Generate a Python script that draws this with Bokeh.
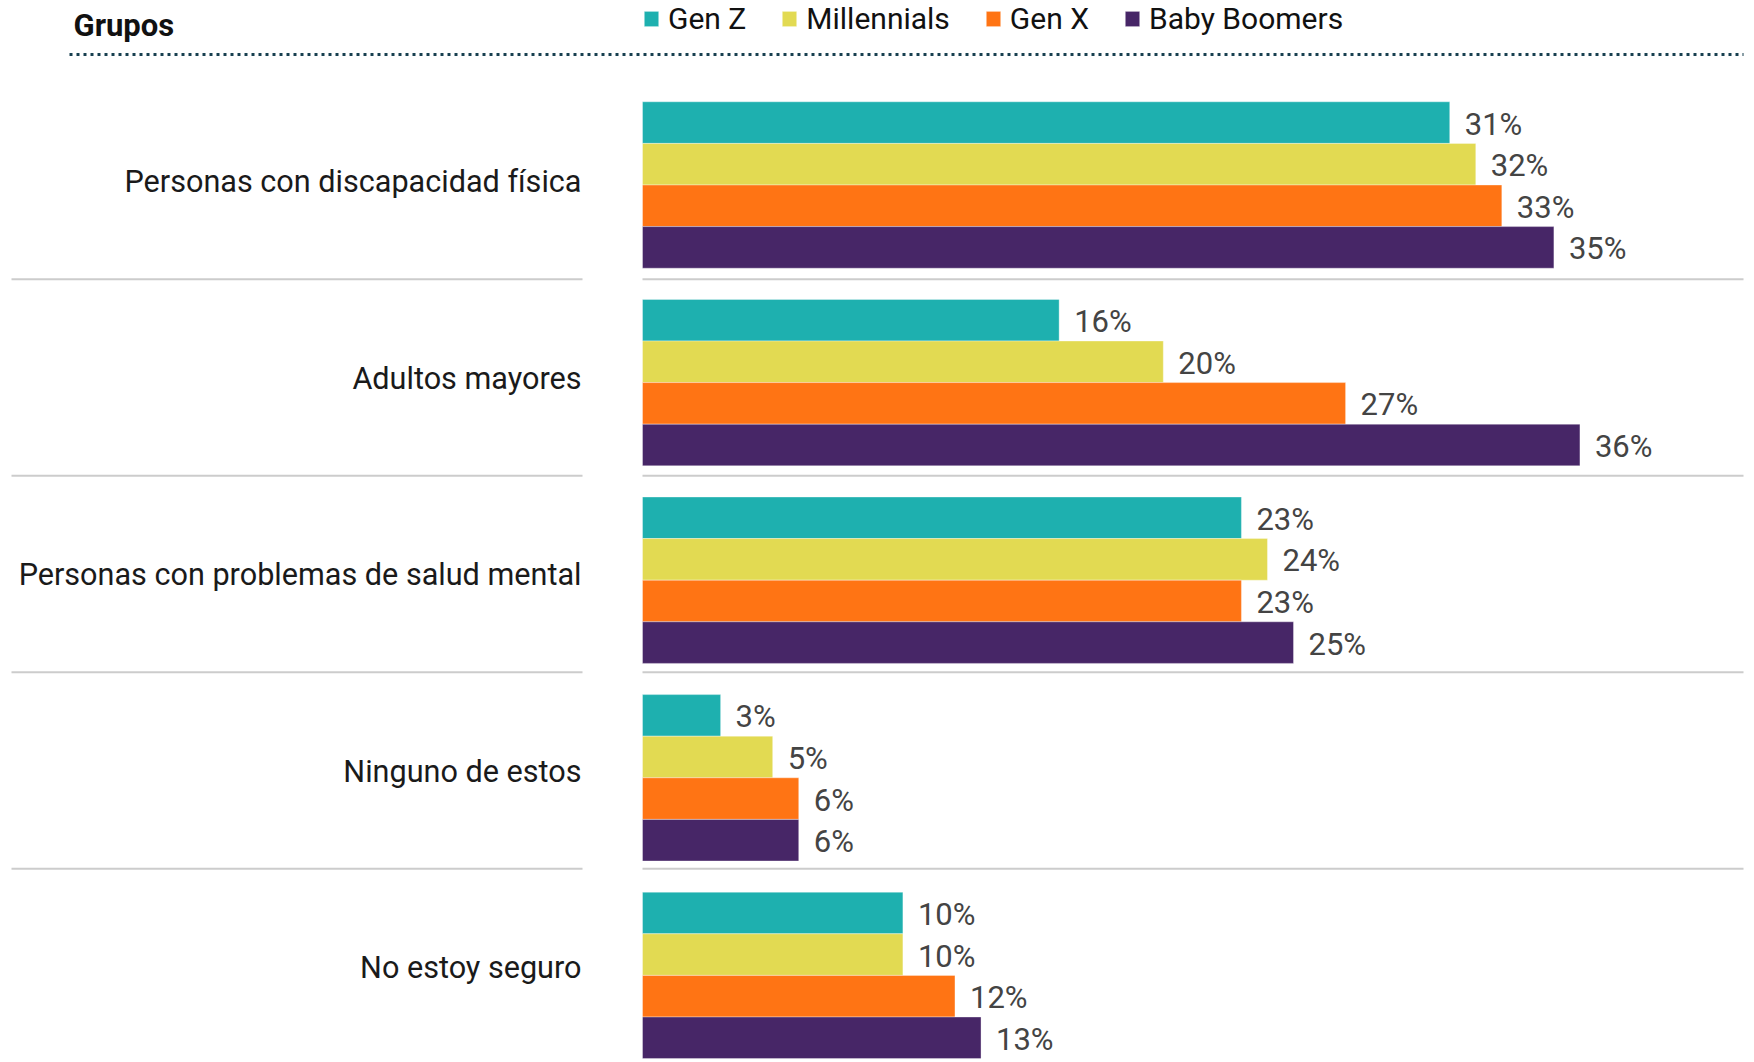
from bokeh.plotting import figure
from bokeh.models import Range1d, ColumnDataSource, Legend, LegendItem
from bokeh.core.properties import value
from bokeh.embed import file_html
from bokeh.resources import INLINE

# ---------------- data ----------------
categories = [
    "Personas con discapacidad física",
    "Adultos mayores",
    "Personas con problemas de salud mental",
    "Ninguno de estos",
    "No estoy seguro",
]
series_names = ["Gen Z", "Millennials", "Gen X", "Baby Boomers"]
gen_z = [31, 16, 23, 3, 10]
millennials = [32, 20, 24, 5, 10]
gen_x = [33, 27, 23, 6, 12]
baby_boomers = [35, 36, 25, 6, 13]
series_values = [gen_z, millennials, gen_x, baby_boomers]
colors = ["#1eb0af", "#e2da52", "#ff7414", "#472667"]
header = "Grupos"

# ---------------- layout constants ----------------
OFF = 0          # page offset of the canvas
W, H = 1754, 1062
X0 = 642.0       # canvas px of 0 %
PPU = 26.04      # px per percent
Y0 = 184.5       # canvas px of first group centre
PITCH = 197.6    # px per group (bars)
LPITCH = 196.5   # px per group (labels / separators)
FONT = "Roboto"


def sx(px):
    return (px - OFF - X0) / PPU


def sy(py):
    return (Y0 - (py - OFF)) / PITCH


p = figure(
    width=W, height=H,
    x_range=Range1d(sx(OFF), sx(OFF + W)),
    y_range=Range1d(sy(OFF + H), sy(OFF)),
    output_backend="svg", toolbar_location=None,
    x_axis_location=None, y_axis_location=None,
    min_border=0, outline_line_color=None,
)
p.grid.visible = False
p.background_fill_color = "white"
p.border_fill_color = "white"

BH = 41.6 / PITCH
offsets = [1.5, 0.5, -0.5, -1.5]
n = len(categories)
ys = [-k for k in range(n)]

# separators
sep_y = [sy(278.8 + LPITCH * k) for k in range(n - 1)]
p.segment(x0=[sx(11)] * len(sep_y), x1=[sx(582)] * len(sep_y), y0=sep_y, y1=sep_y,
          line_color="#cccccc", line_width=2)
p.segment(x0=[0] * len(sep_y), x1=[sx(1743)] * len(sep_y), y0=sep_y, y1=sep_y,
          line_color="#cccccc", line_width=2)

renderers = []
for i, (name, vals) in enumerate(zip(series_names, series_values)):
    src = ColumnDataSource(dict(
        y=[y + offsets[i] * BH for y in ys],
        ly=[y + offsets[i] * BH - 1.5 / PITCH for y in ys],
        right=vals,
        lx=[v + 15.0 / PPU for v in vals],
        label=[f"{v}%" for v in vals],
    ))
    r = p.hbar(y="y", left=0, right="right", height=BH, source=src,
               fill_color=colors[i], line_color="white", line_alpha=0.35, line_width=1)
    renderers.append(r)
    p.text(x="lx", y="ly", text="label", source=src,
           text_font=value(FONT), text_font_size="31px", text_color="#444444",
           text_baseline="middle", text_align="left")

# category labels
label_y = [sy(181.1 + LPITCH * k) for k in range(n)]
p.text(x=[sx(581)] * n, y=label_y, text=categories,
       text_font=value(FONT), text_font_size="30.6px", text_color="#1a1a1a",
       text_baseline="middle", text_align="right")

# header + dotted rule
p.text(x=[sx(73)], y=[sy(25)], text=[header], text_font=value(FONT),
       text_font_size="31px", text_font_style="bold", text_color="#111111",
       text_baseline="middle", text_align="left")
p.segment(x0=[sx(69)], x1=[sx(1743)], y0=[sy(54)], y1=[sy(54)],
          line_color="#173f4f", line_width=3, line_dash="3 4")

legend = Legend(
    items=[LegendItem(label=nm, renderers=[r]) for nm, r in zip(series_names, renderers)],
    orientation="horizontal",
    location=(X0, H - 36),
    glyph_width=18, glyph_height=19, label_height=18,
    label_standoff=8, spacing=34, padding=0, margin=0,
    border_line_color=None, background_fill_alpha=0,
    label_text_font=FONT, label_text_font_size="30px", label_text_color="#111111",
)
p.add_layout(legend)

open("out.html", "w").write(file_html(p, INLINE))
